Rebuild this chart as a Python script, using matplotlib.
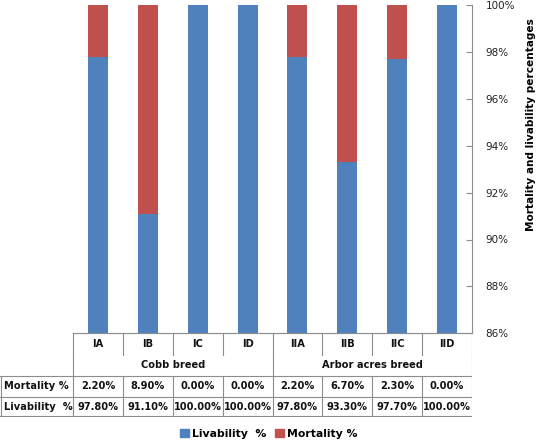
import numpy as np
import matplotlib.pyplot as plt
from matplotlib.patches import Patch

groups = ["IA", "IB", "IC", "ID", "IIA", "IIB", "IIC", "IID"]
breeds = ["Cobb breed", "Arbor acres breed"]
livability = [97.8, 91.1, 100.0, 100.0, 97.8, 93.3, 97.7, 100.0]
mortality = [2.2, 8.9, 0.0, 0.0, 2.2, 6.7, 2.3, 0.0]
yticks = [86, 88, 90, 92, 94, 96, 98, 100]

blue = "#4F81BD"
red = "#C0504D"
grid_c = "#8c8c8c"

W, H = 541, 442
fig = plt.figure(figsize=(W / 100, H / 100), dpi=100)

left_px, right_px = 73.3, 471.7
top_px, bot_px = 5, 333.3
ax = fig.add_axes([left_px / W, 1 - bot_px / H, (right_px - left_px) / W, (bot_px - top_px) / H])

x = np.arange(len(groups))
ax.bar(x, livability, width=0.4, color=blue, zorder=2)
ax.bar(x, mortality, width=0.4, bottom=livability, color=red, zorder=2)
ax.set_xlim(-0.5, len(groups) - 0.5)
ax.set_ylim(86, 100)
ax.set_yticks(yticks)
ax.set_yticklabels([f"{v}%" for v in yticks], fontsize=7.5, color="#222222")
ax.yaxis.tick_right()
ax.tick_params(axis="y", direction="in", length=4, pad=10, color=grid_c)
ax.set_xticks([])
for s in ["left", "top"]:
    ax.spines[s].set_visible(False)
ax.spines["right"].set_color(grid_c)
ax.spines["bottom"].set_color(grid_c)

fig.text(531 / W, 1 - 125 / H, "Mortality and livability percentages", rotation=90,
         ha="center", va="center", fontsize=7.6, fontweight="bold")

# data table under the bars
lab_w = left_px / ((right_px - left_px) / len(groups))
tx0 = -0.5 - lab_w
tab = fig.add_axes([0, 1 - 417 / H, right_px / W, (417 - bot_px) / H])
tab.set_xlim(tx0, len(groups) - 0.5)
tab.set_ylim(417, bot_px)
tab.axis("off")
rows = [bot_px, 355, 375.5, 397, 416]
n = len(groups)
lw = 0.8
# horizontal lines
tab.plot([-0.5, n - 0.5], [rows[0], rows[0]], color=grid_c, lw=lw)
for r in rows[2:]:
    tab.plot([tx0, n - 0.5], [r, r], color=grid_c, lw=lw)
# vertical lines
for i in range(n + 1):
    xb = i - 0.5
    tab.plot([xb, xb], [rows[0], rows[1]], color=grid_c, lw=lw)
    tab.plot([xb, xb], [rows[2], rows[4]], color=grid_c, lw=lw)
for xb in [-0.5, 3.5, 7.5]:
    tab.plot([xb, xb], [rows[1], rows[2]], color=grid_c, lw=lw)
tab.plot([tx0 + 0.02, tx0 + 0.02], [rows[2], rows[4]], color=grid_c, lw=lw)

tk = dict(fontsize=7.1, fontweight="bold", va="center", color="#111111")
for i, g in enumerate(groups):
    tab.text(i, (rows[0] + rows[1]) / 2, g, ha="center", **tk)
    tab.text(i, (rows[2] + rows[3]) / 2, f"{mortality[i]:.2f}%", ha="center", **tk)
    tab.text(i, (rows[3] + rows[4]) / 2, f"{livability[i]:.2f}%", ha="center", **tk)
tab.text(1.5, (rows[1] + rows[2]) / 2, breeds[0], ha="center", **tk)
tab.text(5.5, (rows[1] + rows[2]) / 2, breeds[1], ha="center", **tk)
tab.text(tx0 + 0.08, (rows[2] + rows[3]) / 2, "Mortality %", ha="left", **tk)
tab.text(tx0 + 0.08, (rows[3] + rows[4]) / 2, "Livability  %", ha="left", **tk)

handles = [Patch(color=blue, label="Livability  %"), Patch(color=red, label="Mortality %")]
fig.legend(handles=handles, loc="center", bbox_to_anchor=(269 / W, 1 - 434 / H), ncol=2,
           frameon=False, prop={"size": 7.8, "weight": "bold"}, handlelength=0.8,
           handleheight=0.8, handletextpad=0.3, columnspacing=0.8)

fig.savefig("out.png", dpi=100)
